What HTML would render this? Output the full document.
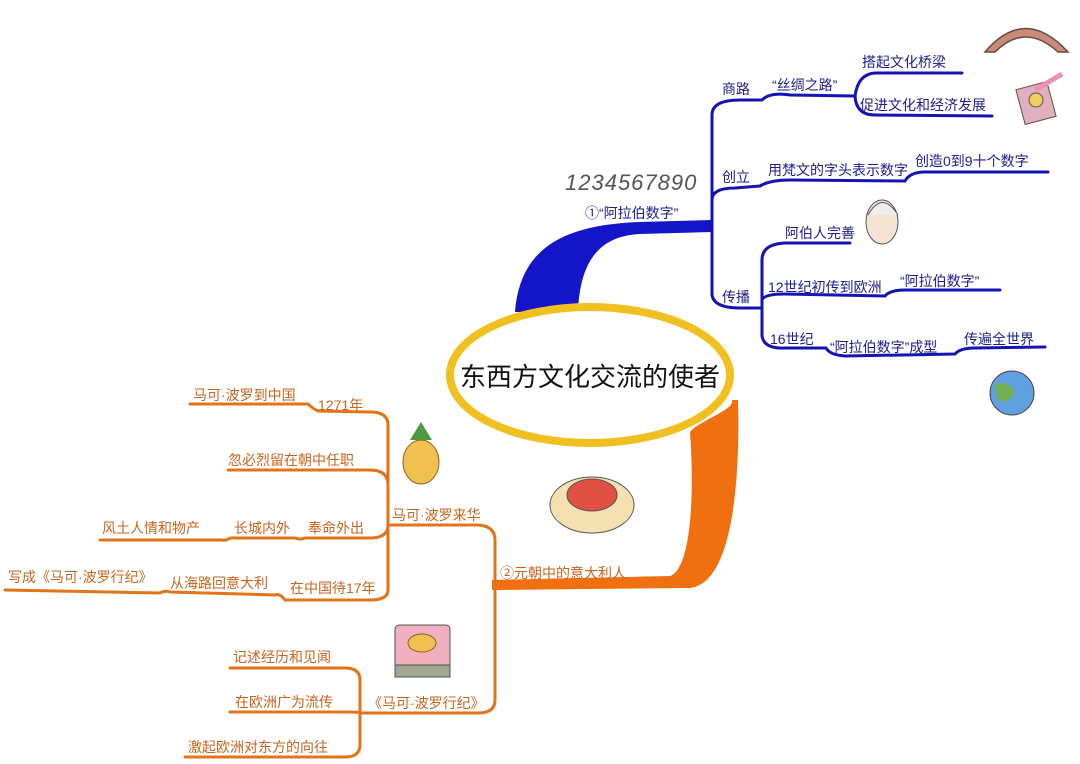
<!DOCTYPE html>
<html><head><meta charset="utf-8"><style>
body{margin:0;background:#fff}
svg{display:block}
.b{font-family:"Liberation Sans","Noto Sans CJK SC",sans-serif;fill:#1c1c8c;font-size:14px}
.o{font-family:"Liberation Sans","Noto Sans CJK SC",sans-serif;fill:#c8641c;font-size:14px}
</style></head><body>
<svg width="1080" height="764" viewBox="0 0 1080 764">
<path d="M515,312 C520,250 560,225 640,222 L712,220 L712,232 L640,234 C600,236 580,260 578,312 Z" fill="#1414c8"/>
<g fill="none" stroke="#1414b4" stroke-width="3" stroke-linecap="round">
<path d="M712,226 L712,115 Q712,100 740,100 L762,100 Q770,92 790,95 L855,96"/>
<path d="M855,96 Q858,74 875,73 L962,73"/>
<path d="M855,96 Q856,115 875,115 L992,116"/>
<path d="M712,200 Q712,188 735,188 L760,186 Q770,180 790,180 L905,181 Q910,172 925,172 L1048,172"/>
<path d="M712,226 L712,295 Q714,308 740,308 L762,308"/>
<path d="M762,308 L762,260 Q762,244 785,243 L850,243"/>
<path d="M762,300 Q764,294 785,294 L885,296 Q890,290 905,290 L1000,290"/>
<path d="M762,308 L762,336 Q764,349 785,348 L826,348 Q830,355 845,356 L955,354 Q960,348 975,348 L1045,347"/>
</g>
<path d="M690,432 C700,420 735,410 732,400 L738,400 C740,470 735,583 690,588 L492,590 L492,580 L670,576 C690,570 695,500 690,432 Z" fill="#f07010"/>
<g fill="none" stroke="#e27418" stroke-width="3" stroke-linecap="round">
<path d="M495,585 L495,540 Q495,526 478,525 L388,525"/>
<path d="M495,585 L495,700 Q495,713 478,713 L360,713"/>
<path d="M388,525 L388,425 Q388,412 370,412 L318,411 Q312,408 308,404 L190,404"/>
<path d="M388,485 Q388,470 370,470 L228,470"/>
<path d="M388,525 Q388,538 370,538 L305,538 Q300,540 295,538 L230,538 Q226,541 222,540 L100,540"/>
<path d="M388,525 L388,590 Q388,600 370,600 L285,600 Q280,593 275,595 L170,592 Q165,590 160,593 L5,590"/>
<path d="M360,713 L360,680 Q360,668 345,668 L230,668"/>
<path d="M360,713 Q360,712 345,712 L230,712"/>
<path d="M360,713 L360,745 Q360,757 345,757 L185,757"/>
</g>
<ellipse cx="590" cy="375" rx="140" ry="68" fill="#fff" stroke="#f0c020" stroke-width="8"/>
<text x="590" y="386" text-anchor="middle" font-family="Liberation Sans,'Noto Sans CJK SC',sans-serif" font-size="26" fill="#111">东西方文化交流的使者</text>
<text x="565" y="190" font-family="Liberation Sans,sans-serif" font-style="italic" font-size="22" fill="#555" letter-spacing="1">1234567890</text>
<text class="b" x="585" y="218">①“阿拉伯数字”</text>
<text class="b" x="722" y="94" font-size="16">商路</text>
<text class="b" x="772" y="90">“丝绸之路”</text>
<text class="b" x="862" y="67">搭起文化桥梁</text>
<text class="b" x="860" y="110">促进文化和经济发展</text>
<text class="b" x="722" y="182" font-size="16">创立</text>
<text class="b" x="768" y="175">用梵文的字头表示数字</text>
<text class="b" x="915" y="166">创造0到9十个数字</text>
<text class="b" x="722" y="302" font-size="16">传播</text>
<text class="b" x="785" y="238">阿伯人完善</text>
<text class="b" x="768" y="292" font-size="13">12世纪初传到欧洲</text>
<text class="b" x="900" y="286">“阿拉伯数字”</text>
<text class="b" x="770" y="344">16世纪</text>
<text class="b" x="830" y="352" font-size="13">“阿拉伯数字”成型</text>
<text class="b" x="964" y="344">传遍全世界</text>
<text class="o" x="500" y="578" font-size="13">②元朝中的意大利人</text>
<text class="o" x="392" y="520">马可·波罗来华</text>
<text class="o" x="193" y="400">马可·波罗到中国</text>
<text class="o" x="318" y="410" font-size="13">1271年</text>
<text class="o" x="228" y="465">忽必烈留在朝中任职</text>
<text class="o" x="102" y="533">风土人情和物产</text>
<text class="o" x="234" y="533">长城内外</text>
<text class="o" x="308" y="533">奉命外出</text>
<text class="o" x="8" y="582">写成《马可·波罗行纪》</text>
<text class="o" x="170" y="588">从海路回意大利</text>
<text class="o" x="290" y="593" font-size="13">在中国待17年</text>
<text class="o" x="368" y="708">《马可·波罗行纪》</text>
<text class="o" x="233" y="662">记述经历和见闻</text>
<text class="o" x="235" y="707">在欧洲广为流传</text>
<text class="o" x="188" y="752">激起欧洲对东方的向往</text>
<path d="M985,52 Q1025,5 1068,52 L1058,52 Q1025,22 995,52 Z" fill="#c98a7a" stroke="#6a4a40" stroke-width="1.5"/>
<rect x="1020" y="85" width="32" height="36" fill="#e0b0c0" stroke="#6a4a40" transform="rotate(-15 1036 103)"/>
<circle cx="1036" cy="100" r="7" fill="#f0d060" stroke="#6a4a40"/>
<path d="M1035,90 L1062,74" stroke="#f090b0" stroke-width="5"/>
<ellipse cx="882" cy="222" rx="16" ry="22" fill="#f4e4d4" stroke="#555"/>
<path d="M868,215 Q882,190 898,215" fill="#eee" stroke="#555"/>
<circle cx="1012" cy="393" r="22" fill="#60a0e0" stroke="#444"/>
<path d="M995,385 Q1005,378 1015,392 Q1008,405 998,400Z" fill="#70b050"/>
<ellipse cx="421" cy="462" rx="18" ry="22" fill="#f0c050" stroke="#8a6020"/>
<path d="M410,440 L421,422 L432,440Z" fill="#4a9a40"/>
<ellipse cx="592" cy="505" rx="42" ry="28" fill="#f4e0b0" stroke="#555"/>
<ellipse cx="592" cy="495" rx="25" ry="16" fill="#e05040" stroke="#555"/>
<rect x="395" y="625" width="55" height="45" rx="4" fill="#f0b0c0" stroke="#555"/>
<rect x="395" y="665" width="55" height="12" fill="#a0a890" stroke="#555"/>
<ellipse cx="422" cy="643" rx="14" ry="9" fill="#f0c050" stroke="#8a6020"/>
</svg>
</body></html>
